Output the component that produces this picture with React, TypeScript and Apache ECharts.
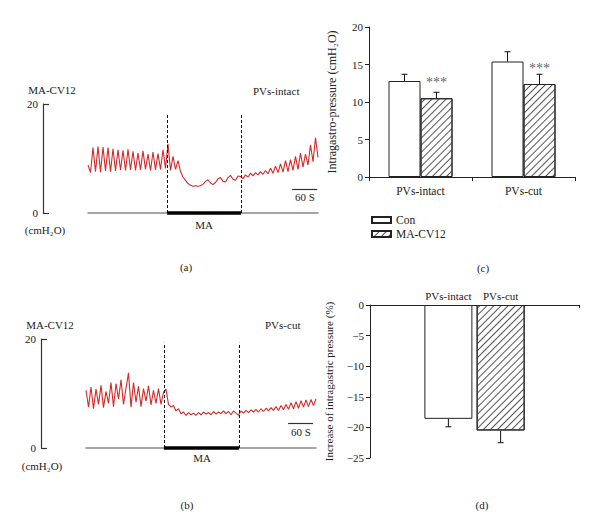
import React, { useEffect, useRef } from "react";
import * as echarts from "echarts";

const SERIF = '"Liberation Serif", "DejaVu Serif", serif';
const INK = "#222";

// Panel (a): MA-CV12, PVs-intact trace (cmH2O), one sample every 6 s
const traceA = [
  8.8, 7.4, 12.0, 7.6, 12.2, 7.5, 12.1, 7.7, 12.0, 7.6, 11.8, 7.7, 11.6, 7.9, 11.5, 7.8,
  11.7, 7.9, 11.3, 7.8, 11.0, 7.9, 11.4, 8.0, 10.8, 7.8, 11.2, 7.9, 10.9, 8.0, 11.6, 8.2,
  12.7, 7.8, 10.4, 8.0, 9.6, 7.6, 6.6, 6.0, 5.4, 5.1, 4.9, 5.0, 4.9, 5.0, 5.3, 5.8,
  6.1, 5.5, 5.2, 5.6, 6.3, 6.5, 5.8, 5.7, 6.5, 6.9, 6.2, 6.0, 6.8, 6.7, 6.3, 7.0,
  6.6, 7.3, 6.8, 7.4, 7.0, 7.6, 7.1, 7.8, 7.2, 8.2, 7.3, 8.6, 7.4, 9.0, 7.5, 9.6,
  7.6, 9.8, 7.8, 10.4, 8.0, 11.0, 8.4, 10.8, 8.8, 12.5, 9.4, 13.8, 10.2,
];
// Panel (b): MA-CV12, PVs-cut trace (cmH2O)
const traceB = [
  10.6, 7.5, 11.2, 7.2, 10.8, 8.0, 11.5, 7.4, 10.4, 8.2, 12.0, 7.6, 11.8, 9.0, 12.5, 8.0,
  11.0, 13.8, 7.5, 12.0, 8.4, 11.3, 7.6, 10.9, 8.6, 11.4, 7.9, 10.6, 8.2, 10.9, 8.0, 10.2,
  10.8, 8.0, 7.5, 7.8, 6.8, 7.2, 6.3, 6.6, 6.0, 6.5, 6.1, 6.4, 6.0, 6.5, 6.1, 6.6,
  6.2, 6.5, 6.1, 6.7, 6.2, 6.6, 6.3, 6.8, 6.3, 6.7, 6.1, 6.8, 6.4, 6.0, 6.8, 6.4,
  6.9, 6.5, 7.0, 6.6, 7.1, 6.6, 7.2, 6.7, 7.3, 6.8, 7.4, 6.9, 7.6, 6.9, 7.8, 7.0,
  8.0, 7.1, 8.3, 7.2, 8.5, 7.3, 8.7, 7.5, 8.8, 7.6, 8.9, 7.8, 9.0,
];
const SAMPLE_SEC = 6;
const TRACE_MAX_SEC = 552;
const maA = [190, 367];
const maB = [187, 367];
const scaleBarA = [490, 550];
const scaleBarB = [485, 545];

// Panel (c)
const groups = ["PVs-intact", "PVs-cut"];
const conMean = [12.8, 15.4];
const conErr = [0.9, 1.3];
const cvMean = [10.5, 12.4];
const cvErr = [0.8, 1.3];

// Panel (d)
const incCats = ["", "PVs-intact", "PVs-cut", ""];
const incMean = [-18.6, -20.5];
const incErr = [1.3, 2.0];

const hatch = {
  symbol: "rect",
  symbolSize: 1,
  rotation: -Math.PI / 4,
  dashArrayX: [1, 0],
  dashArrayY: [1, 3.2],
  color: "#555",
  backgroundColor: "#fff",
};

function traceSeries(values: number[], gi: number, ma: number[], dashTop: number, bar: number[], barY: number) {
  const dash = { type: [3, 2], color: "#111", width: 1 };
  const thick = { type: "solid", color: "#000", width: 3.5 };
  const sb = { type: "solid", color: "#333", width: 1.2 };
  return {
    type: "line",
    xAxisIndex: gi,
    yAxisIndex: gi,
    data: values.map((v, i) => [i * SAMPLE_SEC, v]),
    showSymbol: false,
    symbol: "none",
    lineStyle: { color: "#d42a2a", width: 1.1 },
    markLine: {
      silent: true,
      symbol: ["none", "none"],
      label: { show: false },
      data: [
        [{ coord: [ma[0], 0], lineStyle: dash }, { coord: [ma[0], dashTop], lineStyle: dash }],
        [{ coord: [ma[1], 0], lineStyle: dash }, { coord: [ma[1], dashTop], lineStyle: dash }],
        [{ coord: [ma[0], 0], lineStyle: thick }, { coord: [ma[1], 0], lineStyle: thick }],
        [{ coord: [bar[0], barY], lineStyle: sb }, { coord: [bar[1], barY], lineStyle: sb }],
      ],
    },
  };
}

function errRender(offset: number) {
  return (params: any, api: any) => {
    const c = api.value(0);
    const a = api.coord([c, api.value(1)]);
    const b = api.coord([c, api.value(2)]);
    const x = a[0] + offset;
    const st = { stroke: "#111", lineWidth: 1 };
    return {
      type: "group",
      children: [
        { type: "line", shape: { x1: x, y1: a[1], x2: x, y2: b[1] }, style: st },
        { type: "line", shape: { x1: x - 3, y1: b[1], x2: x + 3, y2: b[1] }, style: st },
      ],
    };
  };
}

function txt(text: string, x: number, y: number, align = "center", size = 11) {
  return {
    type: "text",
    x,
    y,
    silent: true,
    style: { text, align, verticalAlign: "middle", font: `${size}px ${SERIF}`, fill: INK },
  };
}

function traceYAxis(gi: number) {
  return {
    gridIndex: gi,
    type: "value",
    min: 0,
    max: 20,
    interval: 20,
    offset: 45,
    axisLine: { show: true, onZero: false, lineStyle: { color: "#333", width: 1.2 } },
    axisTick: { show: true, inside: true, length: 6, lineStyle: { color: "#333", width: 1.2 } },
    axisLabel: { fontSize: 11, fontFamily: SERIF, color: INK, margin: 5 },
    splitLine: { show: false },
  };
}
function traceXAxis(gi: number) {
  return {
    gridIndex: gi,
    type: "value",
    min: 0,
    max: TRACE_MAX_SEC,
    axisLine: { show: true, onZero: false, lineStyle: { color: "#888", width: 1.5 } },
    axisTick: { show: false },
    axisLabel: { show: false },
    splitLine: { show: false },
  };
}

export default function App() {
  const ref = useRef<HTMLDivElement>(null);
  useEffect(() => {
    if (!ref.current) return;
    const chart = echarts.init(ref.current, undefined, { renderer: "svg" });
    const axisLineBlack = { show: true, lineStyle: { color: "#222", width: 1 } };
    const label11 = { fontSize: 11, fontFamily: SERIF, color: INK };
    chart.setOption({
      animation: false,
      backgroundColor: "#fff",
      textStyle: { fontFamily: SERIF },
      grid: [
        { left: 88, top: 104, width: 230, height: 109 },
        { left: 86, top: 339, width: 230, height: 109 },
        { left: 369, top: 27, width: 206, height: 150 },
        { left: 370, top: 305, width: 209, height: 153 },
      ],
      xAxis: [
        traceXAxis(0),
        traceXAxis(1),
        {
          gridIndex: 2,
          type: "category",
          data: groups,
          axisLine: axisLineBlack,
          axisTick: { show: true, length: 4, lineStyle: { color: "#222" } },
          axisLabel: { ...label11, fontSize: 11.5, margin: 8 },
        },
        {
          gridIndex: 3,
          type: "category",
          position: "top",
          data: incCats,
          axisLine: axisLineBlack,
          axisTick: { show: true, inside: true, length: 3, interval: (i: number) => i === 2, lineStyle: { color: "#222" } },
          axisLabel: { ...label11, margin: 4, interval: 0 },
        },
      ],
      yAxis: [
        traceYAxis(0),
        traceYAxis(1),
        {
          gridIndex: 2,
          type: "value",
          min: 0,
          max: 20,
          interval: 5,
          name: "Intragastro-pressure (cmH₂O)",
          nameLocation: "middle",
          nameGap: 31,
          nameRotate: 90,
          nameTextStyle: { ...label11, fontSize: 12 },
          axisLine: axisLineBlack,
          axisTick: { show: true, length: 4, lineStyle: { color: "#222" } },
          axisLabel: { ...label11, margin: 6 },
          splitLine: { show: false },
        },
        {
          gridIndex: 3,
          type: "value",
          min: -25,
          max: 0,
          interval: 5,
          name: "Increase of intragastric pressure (%)",
          nameLocation: "middle",
          nameGap: 36,
          nameRotate: 90,
          nameTextStyle: label11,
          axisLine: axisLineBlack,
          axisTick: { show: true, length: 4, lineStyle: { color: "#222" } },
          axisLabel: { ...label11, margin: 6, formatter: (v: number) => (v < 0 ? "−" + Math.abs(v) : String(v)) },
          splitLine: { show: false },
        },
      ],
      legend: {
        data: ["Con", "MA-CV12"],
        orient: "vertical",
        left: 366,
        top: 209,
        itemWidth: 19,
        itemHeight: 6,
        itemGap: 2,
        icon: "rect",
        textStyle: { ...label11, fontSize: 11.5 },
        selectedMode: false,
      },
      series: [
        traceSeries(traceA, 0, maA, 18.3, scaleBarA, 4.4),
        traceSeries(traceB, 1, maB, 19.3, scaleBarB, 4.6),
        {
          name: "Con",
          type: "bar",
          xAxisIndex: 2,
          yAxisIndex: 2,
          data: conMean,
          barWidth: 32,
          barGap: "0%",
          itemStyle: { color: "#fff", borderColor: "#222", borderWidth: 1 },
        },
        {
          name: "MA-CV12",
          type: "bar",
          xAxisIndex: 2,
          yAxisIndex: 2,
          data: cvMean,
          barWidth: 32,
          barGap: "0%",
          itemStyle: { color: "#fff", borderColor: "#222", borderWidth: 1, decal: hatch },
          label: {
            show: true,
            position: "top",
            distance: 9,
            formatter: "***",
            fontSize: 14,
            fontFamily: SERIF,
            color: "#666",
          },
        },
        {
          type: "custom",
          xAxisIndex: 2,
          yAxisIndex: 2,
          z: 5,
          renderItem: errRender(-16),
          data: conMean.map((m, i) => [i, m, m + conErr[i]]),
        },
        {
          type: "custom",
          xAxisIndex: 2,
          yAxisIndex: 2,
          z: 5,
          renderItem: errRender(16),
          data: cvMean.map((m, i) => [i, m, m + cvErr[i]]),
        },
        {
          name: "inc",
          type: "bar",
          xAxisIndex: 3,
          yAxisIndex: 3,
          barWidth: 48,
          data: [
            "-",
            { value: incMean[0], itemStyle: { color: "#fff", borderColor: "#222", borderWidth: 1 } },
            { value: incMean[1], itemStyle: { color: "#fff", borderColor: "#222", borderWidth: 1, decal: hatch } },
            "-",
          ],
        },
        {
          type: "custom",
          xAxisIndex: 3,
          yAxisIndex: 3,
          z: 5,
          renderItem: errRender(0),
          data: incMean.map((m, i) => [i + 1, m, m - incErr[i]]),
        },
      ],
      graphic: [
        txt("MA-CV12", 52, 90),
        txt("(cmH₂O)", 45, 230),
        txt("PVs-intact", 253, 91, "left"),
        txt("MA", 204, 225),
        txt("60 S", 305, 197),
        txt("(a)", 186, 267),
        txt("MA-CV12", 50, 325),
        txt("(cmH₂O)", 42, 466),
        txt("PVs-cut", 265, 325, "left"),
        txt("MA", 202, 458),
        txt("60 S", 301, 432),
        txt("(b)", 187, 505),
        txt("(c)", 483, 268),
        txt("(d)", 482, 505),
      ],
    });
    return () => chart.dispose();
  }, []);
  return <div ref={ref} style={{ position: "absolute", left: 0, top: 0, width: 600, height: 531 }} />;
}
